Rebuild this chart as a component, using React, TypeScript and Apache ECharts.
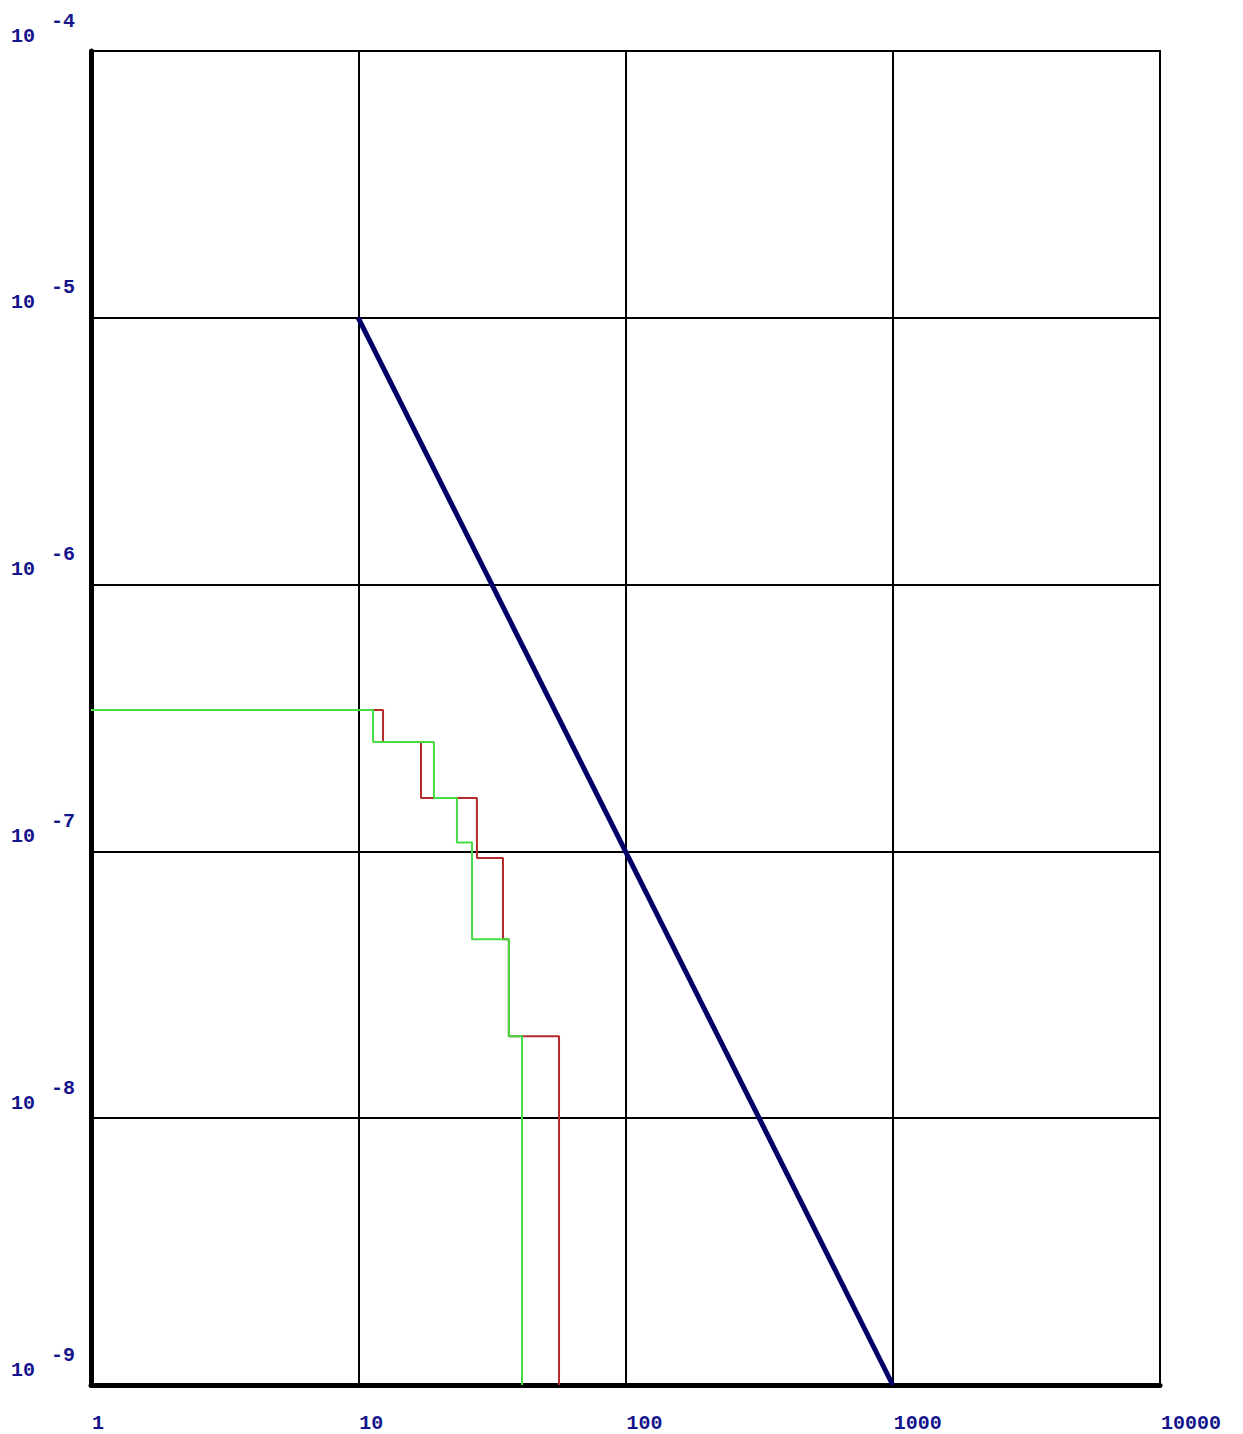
import React, { useEffect, useRef } from "react";
import * as echarts from "echarts";

const blueX = [10, 1000];
const blueY = [1e-5, 1e-9];

const greenX = [1, 11.36, 19.2, 23.4, 26.65, 36.6, 41.0];
const greenY = [3.39e-7, 2.57e-7, 1.585e-7, 1.08e-7, 4.69e-8, 2.03e-8, 1e-9];

const redX = [1, 12.38, 17.17, 27.8, 34.8, 36.6, 56.4];
const redY = [3.39e-7, 2.57e-7, 1.585e-7, 9.44e-8, 4.69e-8, 2.03e-8, 1e-9];

const xMin = 1;
const xMax = 10000;
const yMin = 1e-9;
const yMax = 1e-4;

const labelColor = "#14148c";
const labelFont = "Liberation Mono";

const pair = (xs: number[], ys: number[]) => xs.map((x, i) => [x, ys[i]]);

export default function App() {
  const ref = useRef<HTMLDivElement>(null);
  useEffect(() => {
    document.body.style.margin = "0";
    if (!ref.current) return;
    const chart = echarts.init(ref.current, null, { renderer: "svg" });
    chart.setOption({
      animation: false,
      backgroundColor: "#ffffff",
      grid: {
        left: 91,
        right: 83,
        top: 51,
        bottom: 49,
        show: true,
        borderColor: "#000",
        borderWidth: 2,
      },
      xAxis: {
        type: "log",
        logBase: 10,
        min: xMin,
        max: xMax,
        axisLine: { show: true, onZero: false, lineStyle: { color: "#000", width: 5 } },
        axisTick: { show: false },
        splitLine: { show: true, lineStyle: { color: "#000", width: 2 } },
        minorSplitLine: { show: false },
        axisLabel: {
          show: true,
          showMinLabel: true,
          showMaxLabel: true,
          margin: 28,
          align: "left",
          verticalAlign: "top",
          padding: [0, 0, 0, 1],
          color: labelColor,
          fontFamily: labelFont,
          fontWeight: "bold",
          fontSize: 20,
          formatter: (v: number) => String(Math.round(v)),
        },
      },
      yAxis: {
        type: "log",
        logBase: 10,
        min: yMin,
        max: yMax,
        axisLine: { show: true, onZero: false, lineStyle: { color: "#000", width: 5 } },
        axisTick: { show: false },
        splitLine: { show: true, lineStyle: { color: "#000", width: 2 } },
        axisLabel: {
          show: true,
          showMinLabel: true,
          showMaxLabel: true,
          margin: 16,
          align: "right",
          verticalAlign: "bottom",
          padding: [0, 0, 5, 0],
          formatter: (v: number) => {
            const e = Math.round(Math.log10(v));
            return "{a|10}{s|" + String(e) + "}";
          },
          rich: {
            a: {
              color: labelColor,
              fontFamily: labelFont,
              fontWeight: "bold",
              fontSize: 20,
              verticalAlign: "bottom",
              padding: [0, 16, 0, 0],
            },
            s: {
              color: labelColor,
              fontFamily: labelFont,
              fontWeight: "bold",
              fontSize: 20,
              verticalAlign: "top",
              padding: [0, 0, 15, 0],
            },
          },
        },
      },
      series: [
        {
          type: "line",
          data: pair(redX, redY),
          step: "end",
          showSymbol: false,
          symbol: "none",
          lineStyle: { color: "#b52a2a", width: 2 },
          z: 3,
        },
        {
          type: "line",
          data: pair(greenX, greenY),
          step: "end",
          showSymbol: false,
          symbol: "none",
          lineStyle: { color: "#44dd44", width: 2 },
          z: 4,
        },
        {
          type: "line",
          data: pair(blueX, blueY),
          showSymbol: false,
          symbol: "none",
          lineStyle: { color: "#000066", width: 5 },
          z: 5,
        },
      ],
    });
    return () => chart.dispose();
  }, []);
  return <div ref={ref} style={{ width: 1243, height: 1434 }} />;
}
